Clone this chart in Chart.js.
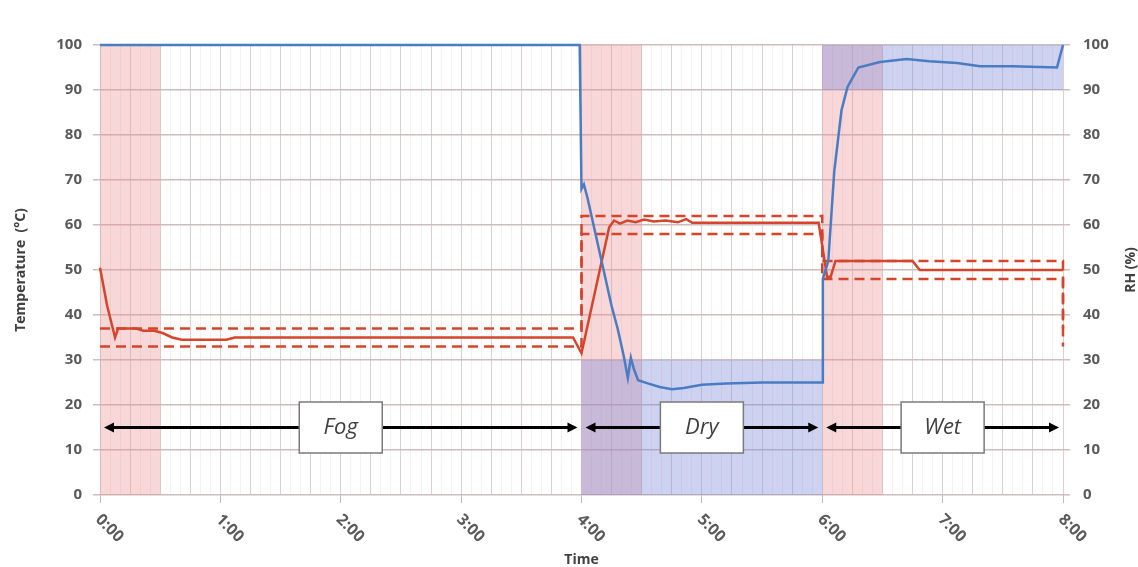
<!DOCTYPE html>
<html><head><meta charset="utf-8">
<script src="https://cdn.jsdelivr.net/npm/chart.js@4.4.1/dist/chart.umd.min.js"></script>
<style>html,body{margin:0;padding:0;background:#fff;}canvas{display:block;}</style>
</head><body>
<canvas id="c" width="1138" height="567"></canvas>
<script>
// ---- data ----
const tickHours = [0, 1, 2, 3, 4, 5, 6, 7, 8];
const tickLabels = ['0:00', '1:00', '2:00', '3:00', '4:00', '5:00', '6:00', '7:00', '8:00'];

const rhTime = [0, 3.985, 4.0, 4.02, 4.05, 4.1, 4.15, 4.2, 4.25, 4.3, 4.35, 4.385, 4.41, 4.435, 4.47, 4.55, 4.65, 4.75, 4.85, 5.0, 5.2, 5.5, 5.8, 6.0, 6.005, 6.05, 6.1, 6.16, 6.21, 6.3, 6.48, 6.7, 6.89, 7.12, 7.31, 7.58, 7.95, 8.0];
const rhValues = [100, 100, 68, 69, 66, 60, 54, 48, 42, 37, 31, 26, 30.5, 28, 25.5, 24.8, 24, 23.5, 23.8, 24.5, 24.8, 25, 25, 25, 48, 52, 72, 85.5, 90.7, 95, 96.2, 96.9, 96.4, 96, 95.3, 95.3, 95, 100];

const tempTime = [0, 0.06, 0.125, 0.15, 0.3, 0.36, 0.45, 0.52, 0.6, 0.68, 1.05, 1.12, 2.0, 3.0, 3.93, 4.0, 4.23, 4.27, 4.32, 4.38, 4.45, 4.52, 4.6, 4.7, 4.8, 4.87, 4.92, 5.5, 5.97, 6.04, 6.07, 6.11, 6.75, 6.81, 8.0];
const tempValues = [50.5, 42, 35, 37, 37, 36.5, 36.5, 36, 35, 34.5, 34.5, 35, 35, 35, 35, 31.5, 59.5, 61, 60.3, 61, 60.6, 61.2, 60.8, 61, 60.6, 61.3, 60.5, 60.5, 60.5, 48.5, 48.5, 52, 52, 50, 50];

const upperLimitTime = [0, 4, 4, 6, 6, 8, 8];
const upperLimitValues = [37, 37, 62, 62, 52, 52, 37];
const lowerLimitTime = [0, 4, 4, 6, 6, 8, 8];
const lowerLimitValues = [33, 33, 58, 58, 48, 48, 33];

const phaseNames = ['Fog', 'Dry', 'Wet'];
const phaseStart = [0, 4, 6];
const phaseEnd = [4, 6, 8];
const phaseArrowLevel = 15;

const transitionStart = [0, 4, 6];
const transitionEnd = [0.5, 4.5, 6.5];

const rhTargetStart = [4, 6];
const rhTargetEnd = [6, 8];
const rhTargetLow = [0, 90];
const rhTargetHigh = [30, 100];

// ---- helpers ----
const pts = (xs, ys) => xs.map((t, i) => ({x: t, y: ys[i]}));
const RED = '#d4452c';
const BLUE = '#4a7cc4';
const FONT = "'Open Sans', sans-serif";

Chart.defaults.font.family = FONT;

const bandsPlugin = {
  id: 'bands',
  beforeDatasetsDraw(chart) {
    const {ctx, chartArea: a, scales: {x, y2}} = chart;
    ctx.save();
    ctx.fillStyle = 'rgba(232,140,140,0.35)';
    transitionStart.forEach((s, i) => {
      const x0 = x.getPixelForValue(s), x1 = x.getPixelForValue(transitionEnd[i]);
      ctx.fillRect(x0, a.top, x1 - x0, a.bottom - a.top);
    });
    ctx.fillStyle = 'rgba(125,138,218,0.38)';
    rhTargetStart.forEach((s, i) => {
      const x0 = x.getPixelForValue(s), x1 = x.getPixelForValue(rhTargetEnd[i]);
      const yt = y2.getPixelForValue(rhTargetHigh[i]), yb = y2.getPixelForValue(rhTargetLow[i]);
      ctx.fillRect(x0, yt, x1 - x0, yb - yt);
    });
    ctx.restore();
  }
};

function head(ctx, xt, yc, dir) {
  ctx.beginPath();
  ctx.moveTo(xt, yc);
  ctx.lineTo(xt - dir * 10, yc - 5);
  ctx.lineTo(xt - dir * 10, yc + 5);
  ctx.closePath();
  ctx.fill();
}

const phasePlugin = {
  id: 'phases',
  afterDatasetsDraw(chart) {
    const {ctx, scales: {x, y}} = chart;
    ctx.save();
    const yc = y.getPixelForValue(phaseArrowLevel);
    phaseNames.forEach((name, i) => {
      const xa = x.getPixelForValue(phaseStart[i]) + 4;
      const xb = x.getPixelForValue(phaseEnd[i]) - 4;
      ctx.strokeStyle = '#000';
      ctx.fillStyle = '#000';
      ctx.lineWidth = 3;
      ctx.beginPath();
      ctx.moveTo(xa + 6, yc);
      ctx.lineTo(xb - 6, yc);
      ctx.stroke();
      head(ctx, xa, yc, -1);
      head(ctx, xb, yc, 1);
      const cx = x.getPixelForValue((phaseStart[i] + phaseEnd[i]) / 2);
      const w = 83, h = 51;
      ctx.fillStyle = '#fff';
      ctx.fillRect(cx - w / 2, yc - h / 2, w, h);
      ctx.strokeStyle = '#7a7a7a';
      ctx.lineWidth = 1.5;
      ctx.strokeRect(cx - w / 2, yc - h / 2, w, h);
      ctx.fillStyle = '#404040';
      ctx.font = "italic 22px " + FONT;
      ctx.textAlign = 'center';
      ctx.textBaseline = 'middle';
      ctx.fillText(name, cx, yc);
    });
    ctx.restore();
  },
  afterDraw(chart) {
    const {ctx, chartArea: a, scales: {x}} = chart;
    ctx.save();
    ctx.fillStyle = '#5a5a5a';
    ctx.font = "bold 16px " + FONT;
    ctx.textAlign = 'left';
    ctx.textBaseline = 'middle';
    tickHours.forEach((hr, i) => {
      const px = x.getPixelForValue(hr);
      ctx.save();
      ctx.translate(px - 2, a.bottom + 22);
      ctx.rotate(Math.PI / 4);
      ctx.fillText(tickLabels[i], 0, 0);
      ctx.restore();
    });
    // right axis title (reads bottom to top)
    ctx.save();
    ctx.fillStyle = '#404040';
    ctx.font = "bold 14px " + FONT;
    ctx.translate(1131, (a.top + a.bottom) / 2);
    ctx.rotate(-Math.PI / 2);
    ctx.textAlign = 'center';
    ctx.textBaseline = 'middle';
    ctx.fillText('RH (%)', 0, 0);
    ctx.restore();
    ctx.restore();
  }
};

const hGrid = '#cdbdbd';
const vGrid = '#dbcfcf';

new Chart(document.getElementById('c'), {
  type: 'line',
  data: {
    datasets: [
      {label: 'RH', data: pts(rhTime, rhValues), yAxisID: 'y2', borderColor: BLUE, borderWidth: 2.5, pointRadius: 0, tension: 0, order: 0, clip: 6},
      {label: 'Temperature', data: pts(tempTime, tempValues), yAxisID: 'y', borderColor: RED, borderWidth: 2.5, pointRadius: 0, tension: 0, order: 1, clip: 6},
      {label: 'Upper limit', data: pts(upperLimitTime, upperLimitValues), yAxisID: 'y', borderColor: RED, borderWidth: 2.5, borderDash: [10, 6], pointRadius: 0, tension: 0, order: 2, clip: 6},
      {label: 'Lower limit', data: pts(lowerLimitTime, lowerLimitValues), yAxisID: 'y', borderColor: RED, borderWidth: 2.5, borderDash: [10, 6], pointRadius: 0, tension: 0, order: 3, clip: 6}
    ]
  },
  options: {
    responsive: false,
    animation: false,
    layout: {padding: {top: 45, left: 0, right: 0, bottom: 0}},
    plugins: {legend: {display: false}, tooltip: {enabled: false}},
    scales: {
      xm: {
        type: 'linear', position: 'bottom', min: 0, max: 8, z: -1,
        ticks: {display: false, stepSize: 1 / 12, autoSkip: false},
        grid: {color: '#f5f1f1', lineWidth: 1, drawTicks: false},
        border: {display: false},
        afterFit(s) { s.height = 0; }
      },
      x: {
        type: 'linear', position: 'bottom', min: 0, max: 8,
        ticks: {stepSize: 0.25, autoSkip: false, callback: () => '', maxRotation: 0},
        grid: {
          color: vGrid, lineWidth: 1, tickLength: 8,
          tickColor: (c) => (c.tick && Number.isInteger(c.tick.value)) ? '#c8b8b8' : 'rgba(0,0,0,0)'
        },
        border: {display: false},
        title: {display: true, text: 'Time', color: '#404040', font: {size: 14, weight: 'bold'}, padding: {top: 0, bottom: -1}},
        afterFit(s) { s.height = 72; }
      },
      y: {
        type: 'linear', position: 'left', min: 0, max: 100,
        ticks: {stepSize: 10, color: '#5a5a5a', font: {size: 15, weight: 'bold'}, padding: 11},
        grid: {color: hGrid, lineWidth: 1.5, tickLength: 7},
        border: {display: false},
        title: {display: true, text: 'Temperature  (°C)', color: '#404040', font: {size: 14, weight: 'bold'}, padding: {top: 13, bottom: 0}},
        afterFit(s) { s.width = 100; }
      },
      y2: {
        type: 'linear', position: 'right', min: 0, max: 100,
        ticks: {stepSize: 10, color: '#5a5a5a', font: {size: 15, weight: 'bold'}, padding: 13},
        grid: {drawOnChartArea: false, color: hGrid, lineWidth: 1.5, tickLength: 7},
        border: {display: false},
        afterFit(s) { s.width = 75; }
      }
    }
  },
  plugins: [bandsPlugin, phasePlugin]
});
</script>
</body></html>
